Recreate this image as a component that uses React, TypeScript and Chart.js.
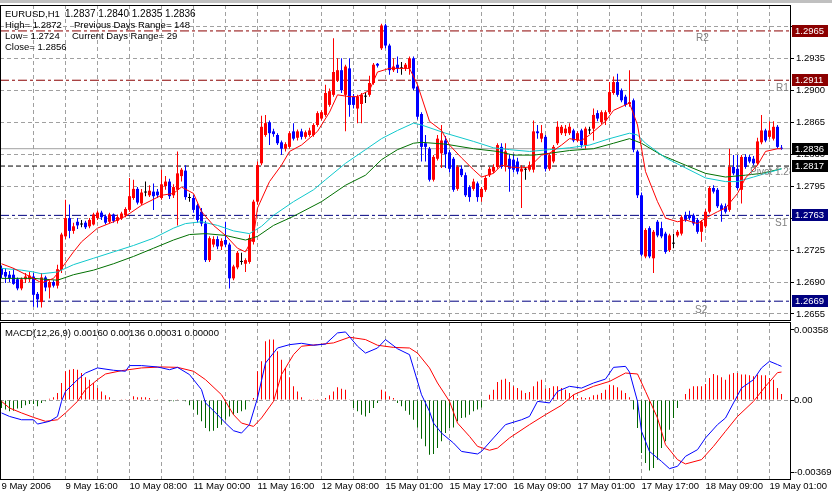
import { useEffect, useRef } from "react";
import { Chart, registerables } from "chart.js";

Chart.register(...registerables);

const FONT = '"Liberation Sans", Arial, Helvetica, sans-serif';

// ---------------- price data (EURUSD H1) ----------------
const opens = [
  1.2705,1.2701,1.2698,1.2698,1.2693,1.2683,1.2693,1.2693,1.2696,1.2677,
  1.2668,1.2695,1.2684,1.2690,1.2686,1.2704,1.2740,1.2760,1.2746,1.2756,
  1.2753,1.2755,1.2751,1.2753,1.2760,1.2766,1.2762,1.2756,1.2764,1.2757,
  1.2760,1.2763,1.2769,1.2782,1.2792,1.2776,1.2788,1.2785,1.2789,1.2789,
  1.2782,1.2795,1.2800,1.2785,1.2791,1.2806,1.2812,1.2782,1.2782,1.2774,
  1.2767,1.2754,1.2714,1.2731,1.2737,1.2729,1.2736,1.2731,1.2694,1.2706,
  1.2712,1.2710,1.2712,1.2734,1.2778,1.2820,1.2851,1.2865,1.2855,1.2851,
  1.2843,1.2836,1.2838,1.2855,1.2848,1.2855,1.2849,1.2851,1.2851,1.2862,
  1.2869,1.2873,1.2884,1.2895,1.2911,1.2922,1.2895,1.2924,1.2893,1.2880,
  1.2885,1.2893,1.2895,1.2908,1.2929,1.2946,1.2971,1.2949,1.2922,1.2928,
  1.2924,1.2924,1.2924,1.2935,1.2904,1.2874,1.2842,1.2836,1.2802,1.2825,
  1.2831,1.2845,1.2832,1.2825,1.2792,1.2814,1.2807,1.2794,1.2792,1.2798,
  1.2783,1.2791,1.2807,1.2811,1.2816,1.2838,1.2818,1.2825,1.2824,1.2822,
  1.2811,1.2813,1.2813,1.2813,1.2855,1.2847,1.2849,1.2814,1.2822,1.2842,
  1.2853,1.2853,1.2853,1.2856,1.2845,1.2856,1.2840,1.2856,1.2858,1.2875,
  1.2865,1.2867,1.2876,1.2897,1.2909,1.2900,1.2893,1.2885,1.2889,1.2833,
  1.2785,1.2718,1.2749,1.2716,1.2756,1.2749,1.2743,1.2725,1.2732,1.2741,
  1.2743,1.2763,1.2763,1.2763,1.2758,1.2745,1.2751,1.2767,1.2793,1.2791,
  1.2774,1.2773,1.2769,1.2816,1.2814,1.2791,1.2827,1.2827,1.2825,1.2820,
  1.2843,1.2856,1.2849,1.2847,1.2860,1.2837,
];
const highs = [
  1.2708,1.2705,1.2702,1.2705,1.2695,1.2695,1.2700,1.2701,1.2700,1.2679,
  1.2700,1.2697,1.2692,1.2692,1.2709,1.2744,1.2780,1.2775,1.2755,1.2760,
  1.2758,1.2757,1.2760,1.2766,1.2768,1.2768,1.2764,1.2766,1.2765,1.2764,
  1.2767,1.2772,1.2804,1.2802,1.2794,1.2792,1.2800,1.2796,1.2798,1.2792,
  1.2813,1.2806,1.2803,1.2797,1.2833,1.2815,1.2818,1.2787,1.2785,1.2776,
  1.2771,1.2757,1.2740,1.2740,1.2740,1.2738,1.2756,1.2733,1.2709,1.2724,
  1.2722,1.2716,1.2742,1.2780,1.2822,1.2872,1.2873,1.2867,1.2858,1.2853,
  1.2845,1.2843,1.2855,1.2864,1.2857,1.2858,1.2856,1.2859,1.2864,1.2877,
  1.2878,1.2906,1.2902,1.2957,1.2935,1.2935,1.2928,1.2935,1.2896,1.2895,
  1.2897,1.2898,1.2916,1.2930,1.2930,1.2973,1.2973,1.2951,1.2935,1.2937,
  1.2931,1.2930,1.2937,1.2937,1.2906,1.2876,1.2851,1.2838,1.2829,1.2851,
  1.2862,1.2850,1.2835,1.2827,1.2818,1.2818,1.2810,1.2796,1.2803,1.2800,
  1.2794,1.2806,1.2816,1.2819,1.2842,1.2842,1.2842,1.2830,1.2830,1.2826,
  1.2818,1.2816,1.2822,1.2867,1.2862,1.2862,1.2851,1.2831,1.2840,1.2866,
  1.2862,1.2862,1.2864,1.2858,1.2855,1.2858,1.2860,1.2860,1.2880,1.2878,
  1.2878,1.2878,1.2909,1.2915,1.2918,1.2902,1.2895,1.2922,1.2891,1.2835,
  1.2788,1.2749,1.2751,1.2747,1.2758,1.2756,1.2745,1.2743,1.2743,1.2747,
  1.2763,1.2767,1.2768,1.2765,1.2760,1.2758,1.2770,1.2795,1.2796,1.2793,
  1.2776,1.2776,1.2836,1.2829,1.2829,1.2829,1.2830,1.2829,1.2828,1.2848,
  1.2873,1.2858,1.2866,1.2866,1.2862,1.2840,
];
const lows = [
  1.2694,1.2689,1.2690,1.2687,1.2681,1.2681,1.2689,1.2690,1.2663,1.2662,
  1.2662,1.2680,1.2672,1.2684,1.2683,1.2700,1.2737,1.2738,1.2743,1.2748,
  1.2750,1.2748,1.2749,1.2752,1.2758,1.2758,1.2753,1.2754,1.2755,1.2754,
  1.2758,1.2761,1.2767,1.2780,1.2775,1.2774,1.2784,1.2783,1.2769,1.2782,
  1.2780,1.2791,1.2781,1.2782,1.2752,1.2800,1.2780,1.2778,1.2766,1.2755,
  1.2751,1.2712,1.2712,1.2728,1.2726,1.2725,1.2728,1.2683,1.2692,1.2704,
  1.2709,1.2701,1.2710,1.2731,1.2775,1.2818,1.2849,1.2840,1.2849,1.2840,
  1.2829,1.2833,1.2836,1.2845,1.2845,1.2846,1.2847,1.2849,1.2849,1.2860,
  1.2867,1.2871,1.2882,1.2893,1.2909,1.2897,1.2855,1.2871,1.2880,1.2864,
  1.2864,1.2886,1.2893,1.2906,1.2925,1.2944,1.2946,1.2917,1.2920,1.2919,
  1.2917,1.2921,1.2917,1.2900,1.2868,1.2822,1.2822,1.2800,1.2800,1.2823,
  1.2815,1.2815,1.2810,1.2789,1.2790,1.2805,1.2783,1.2778,1.2790,1.2778,
  1.2778,1.2789,1.2805,1.2809,1.2814,1.2814,1.2811,1.2789,1.2810,1.2808,
  1.2771,1.2802,1.2811,1.2810,1.2847,1.2843,1.2811,1.2812,1.2820,1.2840,
  1.2851,1.2850,1.2851,1.2843,1.2843,1.2837,1.2836,1.2852,1.2845,1.2866,
  1.2863,1.2862,1.2874,1.2895,1.2893,1.2887,1.2882,1.2882,1.2832,1.2782,
  1.2718,1.2716,1.2716,1.2700,1.2739,1.2738,1.2721,1.2723,1.2727,1.2739,
  1.2741,1.2756,1.2758,1.2752,1.2743,1.2734,1.2749,1.2765,1.2787,1.2771,
  1.2756,1.2765,1.2767,1.2807,1.2791,1.2776,1.2814,1.2820,1.2818,1.2818,
  1.2841,1.2843,1.2847,1.2845,1.2836,1.2835,
];
const closes = [
  1.2698,1.2696,1.2694,1.2688,1.2683,1.2693,1.2696,1.2697,1.2676,1.2671,
  1.2695,1.2684,1.2690,1.2686,1.2704,1.2742,1.2760,1.2746,1.2751,1.2752,
  1.2753,1.2750,1.2758,1.2764,1.2766,1.2761,1.2755,1.2764,1.2757,1.2761,
  1.2765,1.2770,1.2784,1.2792,1.2777,1.2788,1.2788,1.2790,1.2784,1.2785,
  1.2797,1.2800,1.2784,1.2794,1.2809,1.2813,1.2783,1.2782,1.2769,1.2758,
  1.2754,1.2714,1.2738,1.2737,1.2729,1.2735,1.2731,1.2694,1.2707,1.2722,
  1.2712,1.2714,1.2738,1.2778,1.2818,1.2860,1.2864,1.2853,1.2852,1.2842,
  1.2836,1.2841,1.2853,1.2847,1.2855,1.2849,1.2854,1.2856,1.2862,1.2875,
  1.2876,1.2897,1.2899,1.2920,1.2922,1.2900,1.2926,1.2884,1.2884,1.2893,
  1.2895,1.2893,1.2908,1.2928,1.2927,1.2971,1.2949,1.2922,1.2926,1.2924,
  1.2924,1.2928,1.2935,1.2902,1.2871,1.2838,1.2838,1.2802,1.2827,1.2847,
  1.2845,1.2830,1.2814,1.2791,1.2816,1.2807,1.2785,1.2783,1.2800,1.2783,
  1.2792,1.2804,1.2814,1.2816,1.2840,1.2816,1.2833,1.2814,1.2813,1.2811,
  1.2814,1.2813,1.2818,1.2855,1.2853,1.2853,1.2814,1.2829,1.2838,1.2860,
  1.2860,1.2858,1.2860,1.2845,1.2853,1.2840,1.2858,1.2856,1.2873,1.2869,
  1.2876,1.2876,1.2898,1.2909,1.2895,1.2889,1.2884,1.2887,1.2835,1.2785,
  1.2720,1.2747,1.2718,1.2745,1.2741,1.2740,1.2723,1.2741,1.2732,1.2745,
  1.2761,1.2758,1.2760,1.2754,1.2745,1.2756,1.2767,1.2793,1.2789,1.2773,
  1.2769,1.2767,1.2816,1.2809,1.2793,1.2827,1.2816,1.2822,1.2820,1.2844,
  1.2856,1.2845,1.2856,1.2860,1.2838,1.2836,
];

// moving averages, read at sample bars
const maFastIdx = [0,3,8,10,13,15,18,20,24,28,31,35,40,43,45,48,50,53,56,59,61,63,64,67,70,72,75,79,82,84,87,89,92,94,97,99,102,104,107,110,112,115,118,120,123,125,127,130,132,135,137,140,142,145,147,151,153,156,157,159,161,164,166,169,171,174,176,179,181,184,186,189,191,194,195];
const maFastVal = [1.2710,1.2705,1.2694,1.2689,1.2694,1.2705,1.2723,1.2734,1.2749,1.2756,1.2762,1.2774,1.2785,1.2787,1.2794,1.2787,1.2767,1.2752,1.2741,1.2727,1.2723,1.2740,1.2771,1.2800,1.2818,1.2833,1.2840,1.2855,1.2876,1.2895,1.2893,1.2893,1.2900,1.2920,1.2924,1.2924,1.2924,1.2906,1.2866,1.2856,1.2840,1.2826,1.2813,1.2805,1.2809,1.2818,1.2816,1.2815,1.2816,1.2829,1.2831,1.2840,1.2847,1.2845,1.2851,1.2866,1.2878,1.2884,1.2886,1.2862,1.2811,1.2778,1.2760,1.2756,1.2758,1.2754,1.2760,1.2767,1.2771,1.2787,1.2804,1.2818,1.2833,1.2836,1.2836];
const maCyanIdx = [0,5,8,10,14,18,23,28,33,38,43,46,50,54,58,62,65,68,73,78,81,86,91,95,99,103,105,111,118,123,127,132,137,142,147,152,157,159,161,166,171,176,181,184,188,191,195];
const maCyanVal = [1.2705,1.2703,1.2701,1.2699,1.2701,1.2709,1.2716,1.2723,1.2730,1.2738,1.2749,1.2754,1.2756,1.2752,1.2746,1.2743,1.2751,1.2763,1.2778,1.2791,1.2802,1.2820,1.2835,1.2847,1.2856,1.2864,1.2862,1.2853,1.2844,1.2837,1.2835,1.2833,1.2835,1.2837,1.2840,1.2847,1.2853,1.2851,1.2842,1.2826,1.2815,1.2804,1.2800,1.2800,1.2805,1.2809,1.2814];
const maGreenIdx = [0,8,14,18,23,28,33,38,43,47,51,56,61,64,68,73,80,86,91,95,99,103,105,111,118,124,128,133,137,142,148,153,157,160,165,171,176,181,186,190,195];
const maGreenVal = [1.2694,1.2694,1.2692,1.2698,1.2703,1.2710,1.2718,1.2727,1.2736,1.2742,1.2743,1.2741,1.2736,1.2740,1.2752,1.2762,1.2778,1.2796,1.2807,1.2824,1.2835,1.2842,1.2843,1.2841,1.2836,1.2833,1.2829,1.2829,1.2831,1.2834,1.2836,1.2842,1.2847,1.2842,1.2829,1.2818,1.2809,1.2805,1.2807,1.2809,1.2814];

// pivot levels and current price
const levelNames = ["R2", "R1", "Pivot", "S1", "S2"];
const levelValues = [1.2965, 1.2911, 1.2817, 1.2763, 1.2669];
const currentPrice = 1.2836;

// axis ticks
const priceTicks = [1.2655, 1.2690, 1.2725, 1.2760, 1.2795, 1.2830, 1.2865, 1.2900, 1.2935, 1.2970];
const hiddenPriceTickLabels = [1.2760, 1.2970];
const timeLabels = ["9 May 2006", "9 May 16:00", "10 May 08:00", "11 May 00:00", "11 May 16:00", "12 May 08:00", "15 May 01:00", "15 May 17:00", "16 May 09:00", "17 May 01:00", "17 May 17:00", "18 May 09:00", "19 May 01:00"];
const macdTicks = [0.00358, 0, -0.00369];

// MACD(12,26,9)
const macdIdx = [0,2,5,8,9,12,14,15,16,19,21,24,28,31,32,35,39,42,44,47,50,51,54,56,58,60,62,64,66,69,72,75,78,81,84,86,89,91,94,96,99,102,103,105,107,108,110,113,115,119,120,123,126,130,132,134,137,139,142,145,148,151,153,156,157,159,160,162,165,167,169,171,174,176,179,181,183,185,188,190,192,194,195];
const macdVal = [-0.00066,-0.00084,-0.00101,-0.00101,-0.00123,-0.00109,-0.00084,-0.00007,0.00044,0.00104,0.00138,0.00164,0.00152,0.00147,0.00176,0.00176,0.00169,0.00155,0.00167,0.00130,0.00053,-0.00015,-0.00075,-0.00118,-0.00157,-0.00169,-0.00126,0.00010,0.00189,0.00266,0.00283,0.00290,0.00280,0.00286,0.00343,0.00348,0.00275,0.00240,0.00266,0.00309,0.00262,0.00232,0.00164,0.00027,-0.00058,-0.00118,-0.00169,-0.00220,-0.00263,-0.00276,-0.00263,-0.00194,-0.00126,-0.00101,-0.00084,-0.00007,-0.00015,0.00044,0.00070,0.00061,0.00087,0.00107,0.00167,0.00172,0.00143,-0.00007,-0.00160,-0.00263,-0.00314,-0.00351,-0.00339,-0.00288,-0.00254,-0.00194,-0.00126,-0.00092,-0.00015,0.00061,0.00104,0.00164,0.00198,0.00181,0.00172];
const signalIdx = [0,2,5,8,11,14,16,19,21,24,26,30,35,40,44,48,51,55,58,60,63,65,68,70,73,75,79,83,87,91,94,98,102,104,107,109,112,114,117,119,122,124,127,132,136,140,143,148,152,156,159,161,164,166,169,171,175,178,181,184,188,191,194,195];
const signalVal = [-0.00007,-0.00041,-0.00066,-0.00089,-0.00109,-0.00101,-0.00066,-0.00007,0.00053,0.00104,0.00133,0.00150,0.00164,0.00169,0.00167,0.00147,0.00104,0.00027,-0.00075,-0.00118,-0.00135,-0.00092,-0.00007,0.00130,0.00232,0.00275,0.00283,0.00292,0.00321,0.00309,0.00280,0.00269,0.00266,0.00240,0.00164,0.00087,-0.00007,-0.00118,-0.00186,-0.00237,-0.00257,-0.00246,-0.00194,-0.00126,-0.00075,-0.00027,0.00027,0.00070,0.00095,0.00138,0.00133,0.00044,-0.00092,-0.00229,-0.00305,-0.00327,-0.00305,-0.00237,-0.00160,-0.00084,-0.00007,0.00070,0.00140,0.00143];
const histogram = [
  -0.00041,-0.00049,-0.00058,-0.00055,-0.00044,-0.00041,-0.00027,-0.00020,-0.00020,-0.00032,
  -0.00015,-0.00007,0.00007,0.00014,0.00036,0.00087,0.00147,0.00155,0.00159,0.00155,
  0.00138,0.00116,0.00104,0.00087,0.00061,0.00044,0.00024,0.00014,0.00003,0.00002,
  0.00001,0.00001,0.00001,0.00019,0.00014,0.00014,0.00014,0.00010,0.00003,0.00001,
  -0.00003,-0.00003,-0.00007,-0.00007,0.00001,0.00003,-0.00007,-0.00027,-0.00049,-0.00075,
  -0.00109,-0.00143,-0.00160,-0.00157,-0.00143,-0.00126,-0.00101,-0.00084,-0.00075,-0.00066,
  -0.00058,-0.00049,-0.00007,0.00010,0.00147,0.00198,0.00300,0.00309,0.00309,0.00249,
  0.00206,0.00164,0.00116,0.00070,0.00044,0.00014,0.00003,0.00001,0.00001,0.00001,
  0.00001,0.00010,0.00024,0.00044,0.00065,0.00058,0.00053,0.00001,-0.00041,-0.00058,
  -0.00075,-0.00085,-0.00066,-0.00041,-0.00015,0.00053,0.00044,0.00019,0.00010,-0.00015,
  -0.00032,-0.00055,-0.00075,-0.00101,-0.00140,-0.00198,-0.00237,-0.00280,-0.00276,-0.00246,
  -0.00211,-0.00169,-0.00143,-0.00140,-0.00109,-0.00092,-0.00089,-0.00075,-0.00058,-0.00049,
  -0.00038,0.00000,0.00027,0.00053,0.00092,0.00104,0.00109,0.00092,0.00070,0.00061,
  0.00048,0.00036,0.00041,0.00070,0.00095,0.00104,0.00058,0.00061,0.00070,0.00070,
  0.00061,0.00053,0.00036,0.00027,0.00010,0.00014,0.00010,0.00014,0.00024,0.00027,
  0.00036,0.00053,0.00078,0.00075,0.00065,0.00048,0.00036,0.00014,-0.00049,-0.00143,
  -0.00271,-0.00322,-0.00361,-0.00348,-0.00305,-0.00246,-0.00211,-0.00152,-0.00092,-0.00041,
  -0.00003,0.00031,0.00058,0.00070,0.00070,0.00070,0.00082,0.00113,0.00133,0.00126,
  0.00116,0.00104,0.00130,0.00138,0.00138,0.00130,0.00130,0.00126,0.00121,0.00130,
  0.00126,0.00126,0.00113,0.00104,0.00061,0.00031,
];

// ---------------- styles ----------------
const X_MIN = -0.375;
const X_MAX = 197.125;
const GRID = "#a0a0a0";
const BULL = "#ff0000";
const BEAR = "#0000ff";
const DOJI = "#000000";
const levelStyle: Record<string, { color: string; dash: number[]; box: string; labelX: number; labelDy: number }> = {
  R2: { color: "#8b0000", dash: [9, 3, 3, 3], box: "#8b0000", labelX: 696, labelDy: 10 },
  R1: { color: "#8b0000", dash: [9, 3, 3, 3], box: "#8b0000", labelX: 776, labelDy: 11 },
  Pivot: { color: "#000000", dash: [5, 3], box: "#000000", labelX: 750, labelDy: 9 },
  S1: { color: "#000080", dash: [9, 3, 3, 3], box: "#000080", labelX: 775, labelDy: 11 },
  S2: { color: "#000080", dash: [9, 3, 3, 3], box: "#000080", labelX: 695, labelDy: 12 },
};

const pts = (idx: number[], val: number[]) => idx.map((x, k) => ({ x, y: val[k] }));
const candleColor = (i: number) => (closes[i] > opens[i] ? BULL : closes[i] < opens[i] ? BEAR : DOJI);

function buildMain(canvas: HTMLCanvasElement) {
  const colors = opens.map((_, i) => candleColor(i));
  const levelSets: any[] = levelNames.map((n, k) => ({
    type: "line",
    data: [{ x: X_MIN, y: levelValues[k] }, { x: X_MAX, y: levelValues[k] }],
    borderColor: levelStyle[n].color,
    borderDash: levelStyle[n].dash,
    borderWidth: 1,
    pointRadius: 0,
    order: 10,
  }));
  const decor = {
    id: "mainDecor",
    afterDatasetsDraw(chart: any) {
      const { ctx, chartArea: a, scales } = chart;
      ctx.save();
      ctx.beginPath();
      ctx.rect(a.left, a.top, a.right - a.left, a.bottom - a.top);
      ctx.clip();
      ctx.font = `10px ${FONT}`;
      ctx.fillStyle = "#808080";
      ctx.textAlign = "left";
      ctx.textBaseline = "alphabetic";
      levelNames.forEach((n, k) => {
        const text = n === "Pivot" ? `Pivot ${levelValues[k].toFixed(4)}` : n;
        ctx.fillText(text, levelStyle[n].labelX, scales.y.getPixelForValue(levelValues[k]) + levelStyle[n].labelDy);
      });
      ctx.restore();
    },
    afterDraw(chart: any) {
      const { ctx, chartArea: a, scales } = chart;
      ctx.save();
      ctx.strokeStyle = "#000";
      ctx.lineWidth = 1;
      ctx.strokeRect(a.left + 0.5, a.top + 0.5, a.right - a.left, a.bottom - a.top);
      ctx.fillStyle = "#000";
      ctx.font = `9.5px ${FONT}`;
      ctx.textAlign = "left";
      ctx.textBaseline = "alphabetic";
      ctx.fillText("EURUSD,H1", 5, 17);
      ctx.font = `10px ${FONT}`;
      ctx.fillText(`${opens[195].toFixed(4)} ${highs[195].toFixed(4)} ${lows[195].toFixed(4)} ${closes[195].toFixed(4)}`, 65, 17);
      ctx.font = `9.5px ${FONT}`;
      ctx.fillText("High= 1.2872", 5, 28);
      ctx.fillText("Previous Days Range= 148", 74, 28);
      ctx.fillText("Low= 1.2724", 5, 39);
      ctx.fillText("Current Days Range= 29", 72, 39);
      ctx.fillText("Close= 1.2856", 5, 50);
      const boxes = levelNames.map((n, k) => ({ v: levelValues[k], c: levelStyle[n].box }));
      boxes.push({ v: currentPrice, c: "#000000" });
      ctx.textBaseline = "middle";
      boxes.forEach((b) => {
        const y = Math.round(scales.y.getPixelForValue(b.v));
        ctx.fillStyle = b.c;
        ctx.fillRect(792, y - 6, 36, 12);
        ctx.fillStyle = "#fff";
        ctx.fillText(b.v.toFixed(4), 795, y);
      });
      ctx.restore();
    },
  };
  return new Chart(canvas, {
    type: "bar",
    data: {
      datasets: [
        ...levelSets,
        {
          type: "line",
          data: [{ x: X_MIN, y: currentPrice }, { x: X_MAX, y: currentPrice }],
          borderColor: "#a0a0a0",
          borderWidth: 1,
          pointRadius: 0,
          order: 9,
        },
        {
          type: "bar",
          data: opens.map((_, i) => ({ x: i, y: [lows[i], highs[i]] })),
          backgroundColor: colors,
          barThickness: 1,
          grouped: false,
          inflateAmount: 0,
          borderWidth: 0,
          order: 5,
        },
        {
          type: "bar",
          data: opens.map((o, i) => ({ x: i, y: [o, closes[i]] })),
          backgroundColor: colors,
          barThickness: 3,
          grouped: false,
          inflateAmount: 0,
          borderWidth: 0,
          minBarLength: 1,
          order: 4,
        },
        { type: "line", data: pts(maGreenIdx, maGreenVal), borderColor: "#007000", borderWidth: 1, pointRadius: 0, order: 3 },
        { type: "line", data: pts(maCyanIdx, maCyanVal), borderColor: "#10c8cc", borderWidth: 1, pointRadius: 0, order: 2 },
        { type: "line", data: pts(maFastIdx, maFastVal), borderColor: "#ff0000", borderWidth: 1, pointRadius: 0, order: 1 },
      ] as any,
    },
    options: {
      animation: false,
      responsive: false,
      devicePixelRatio: 1,
      events: [],
      layout: { padding: { top: 5, bottom: 1, left: 0, right: 0 } },
      plugins: { legend: { display: false }, tooltip: { enabled: false } },
      scales: {
        x: {
          type: "linear",
          min: X_MIN,
          max: X_MAX,
          offset: false,
          grid: { color: GRID, drawTicks: false, offset: false },
          border: { display: false, dash: [4, 3] },
          ticks: { display: false },
          afterBuildTicks: (s: any) => {
            const t = [];
            for (let v = 8; v <= 192; v += 8) t.push({ value: v });
            s.ticks = t;
          },
          afterFit: (s: any) => {
            s.height = 0;
            s.paddingLeft = 0;
            s.paddingRight = 0;
          },
        },
        y: {
          type: "linear",
          position: "right",
          min: 1.26484,
          max: 1.29934,
          grid: { color: GRID, tickColor: "#000", tickLength: 4, drawTicks: true },
          border: { display: false, dash: [4, 3] },
          ticks: {
            padding: 2,
            color: "#000",
            font: { family: FONT, size: 9.5 },
            callback: (v: any) => (hiddenPriceTickLabels.some((h) => Math.abs(h - v) < 1e-6) ? "" : Number(v).toFixed(4)),
          },
          afterBuildTicks: (s: any) => {
            s.ticks = priceTicks.map((v) => ({ value: v }));
          },
          afterFit: (s: any) => {
            s.width = 42;
            s.paddingTop = 0;
            s.paddingBottom = 0;
          },
        },
      },
    } as any,
    plugins: [decor],
  });
}

function buildMacd(canvas: HTMLCanvasElement) {
  const decor = {
    id: "macdDecor",
    afterDraw(chart: any) {
      const { ctx, chartArea: a } = chart;
      ctx.save();
      ctx.strokeStyle = "#000";
      ctx.lineWidth = 1;
      ctx.strokeRect(a.left + 0.5, a.top + 0.5, a.right - a.left, a.bottom - a.top);
      ctx.fillStyle = "#000";
      ctx.font = `9.5px ${FONT}`;
      ctx.textAlign = "left";
      ctx.textBaseline = "alphabetic";
      ctx.fillText(`MACD(12,26,9) 0.00160 0.00136 ${histogram[histogram.length - 1].toFixed(5)} 0.00000`, 5, 15);
      ctx.restore();
    },
  };
  return new Chart(canvas, {
    type: "bar",
    data: {
      datasets: [
        {
          type: "bar",
          data: histogram.map((v, i) => ({ x: i, y: v })),
          backgroundColor: histogram.map((v) => (v >= 0 ? "#ff0000" : "#006400")),
          barThickness: 1,
          grouped: false,
          inflateAmount: 0,
          borderWidth: 0,
          order: 3,
        },
        { type: "line", data: pts(signalIdx, signalVal), borderColor: "#ff0000", borderWidth: 1, pointRadius: 0, order: 2 },
        { type: "line", data: pts(macdIdx, macdVal), borderColor: "#0000ff", borderWidth: 1, pointRadius: 0, order: 1 },
      ] as any,
    },
    options: {
      animation: false,
      responsive: false,
      devicePixelRatio: 1,
      events: [],
      layout: { padding: { top: 1, bottom: 0, left: 0, right: 0 } },
      plugins: { legend: { display: false }, tooltip: { enabled: false } },
      scales: {
        x: {
          type: "linear",
          min: X_MIN,
          max: X_MAX,
          offset: false,
          grid: {
            color: (c: any) => (c.tick && c.tick.value === 0 ? "rgba(0,0,0,0)" : GRID),
            drawTicks: false,
            offset: false,
          },
          border: { display: false, dash: [4, 3] },
          ticks: {
            display: true,
            align: "start",
            autoSkip: false,
            maxRotation: 0,
            minRotation: 0,
            padding: 2,
            color: "#000",
            font: { family: FONT, size: 9.5 },
            callback: (v: any) => (Number(v) % 16 === 0 ? timeLabels[Number(v) / 16] ?? "" : ""),
          },
          afterBuildTicks: (s: any) => {
            const t = [];
            for (let v = 0; v <= 192; v += 8) t.push({ value: v });
            s.ticks = t;
          },
          afterFit: (s: any) => {
            s.height = 18;
            s.paddingLeft = 0;
            s.paddingRight = 0;
          },
        },
        y: {
          type: "linear",
          position: "right",
          min: -0.00404,
          max: 0.003989,
          grid: {
            color: (c: any) => (c.tick && c.tick.value === 0 ? GRID : "rgba(0,0,0,0)"),
            tickColor: "#000",
            tickLength: 4,
            drawTicks: true,
          },
          border: { display: false, dash: [4, 3] },
          ticks: {
            padding: 0,
            color: "#000",
            font: { family: FONT, size: 9.5 },
            callback: (v: any) => (Number(v) === 0 ? "0.00" : Number(v).toFixed(5)),
          },
          afterBuildTicks: (s: any) => {
            s.ticks = macdTicks.map((v) => ({ value: v }));
          },
          afterFit: (s: any) => {
            s.width = 42;
            s.paddingTop = 0;
            s.paddingBottom = 0;
          },
        },
      },
    } as any,
    plugins: [decor],
  });
}

export default function App() {
  const mainRef = useRef<HTMLCanvasElement>(null);
  const macdRef = useRef<HTMLCanvasElement>(null);
  useEffect(() => {
    const charts: Chart[] = [];
    if (mainRef.current) charts.push(buildMain(mainRef.current));
    if (macdRef.current) charts.push(buildMacd(macdRef.current));
    return () => charts.forEach((c) => c.destroy());
  }, []);
  return (
    <div style={{ position: "fixed", left: 0, top: 0, width: 832, height: 497, background: "#fff", overflow: "hidden" }}>
      <div style={{ position: "absolute", left: 0, top: 0, width: 832, height: 3, background: "#c0c0c0" }} />
      <canvas ref={mainRef} width={832} height={321} style={{ position: "absolute", left: 0, top: 0, width: 832, height: 321 }} />
      <canvas ref={macdRef} width={832} height={176} style={{ position: "absolute", left: 0, top: 321, width: 832, height: 176 }} />
    </div>
  );
}
